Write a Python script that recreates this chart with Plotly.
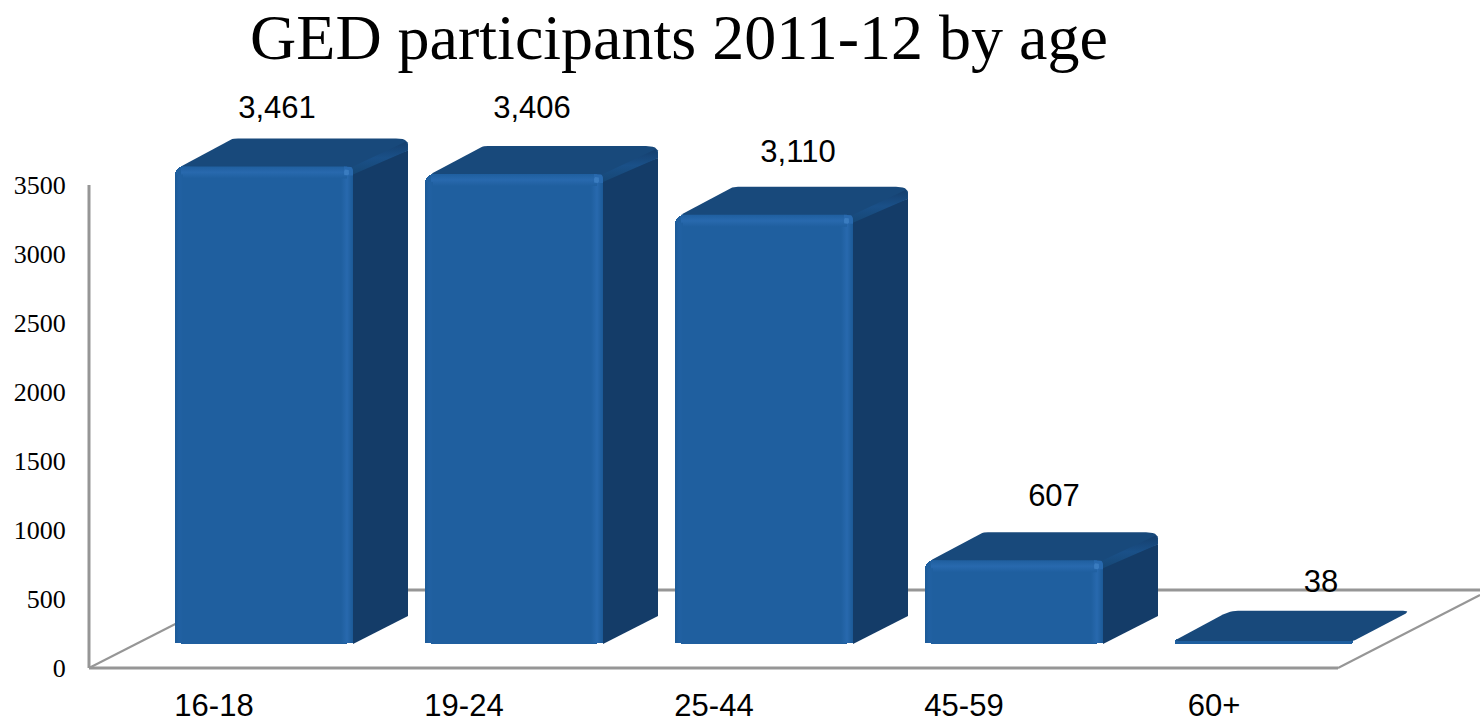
import plotly.graph_objects as go

categories = ["16-18", "19-24", "25-44", "45-59", "60+"]
values = [3461, 3406, 3110, 607, 38]
value_labels = ["3,461", "3,406", "3,110", "607", "38"]
y_ticks = [0, 500, 1000, 1500, 2000, 2500, 3000, 3500]

# style and layout
W, H = 1480, 719
AXIS_L, AXIS_B = 89, 668     # where the drawn axis lines meet
PAD = 5                      # plot area runs a little past them so lines are not clipped
PX_X = 250.0            # pixels per category
PX_Y = 0.138            # pixels per value unit
C0 = 264                # pixel centre of first bar
BASE = 24 / PX_Y        # front of bars sits up from the front floor edge
BAR_W = 178
DX, DY = 55, 28         # depth of bars in pixels
FRONT, TOP, SIDE = "#1f5f9f", "#18497b", "#143c68"
LIGHT = "#2869ae"
GRID = "#969696"
label_dx = [13, 18, 34, 40, 57]    # label offset from bar centre (px)
label_dy = [56, 64, 61, 62, 55]    # label offset above bar front top (px)

x_axis = (AXIS_L - C0) / PX_X
x_min = (AXIS_L - PAD - C0) / PX_X
x_max = (W - C0) / PX_X
y_min = -PAD / PX_Y
y_max = AXIS_B / PX_Y


def ux(i, px=0):
    return i + px / PX_X


def uy(v, px=0):
    return v + px / PX_Y


def rounded(pts, radii, n=6):
    """pts in px offset; returns smoothed outline."""
    out = []
    m = len(pts)
    for k in range(m):
        p0, p1, p2 = pts[k - 1], pts[k], pts[(k + 1) % m]
        r = radii[k]
        if r == 0:
            out.append(p1)
            continue
        def toward(a, b):
            d = ((a[0] - b[0]) ** 2 + (a[1] - b[1]) ** 2) ** 0.5 or 1
            f = min(r / d, 0.5)
            return (b[0] + (a[0] - b[0]) * f, b[1] + (a[1] - b[1]) * f)
        a, b = toward(p0, p1), toward(p2, p1)
        for t in range(n + 1):
            s = t / n
            out.append(((1 - s) ** 2 * a[0] + 2 * s * (1 - s) * p1[0] + s ** 2 * b[0],
                        (1 - s) ** 2 * a[1] + 2 * s * (1 - s) * p1[1] + s ** 2 * b[1]))
    return out


def poly(i, top_val, pts, color=None, grad=None, radii=None):
    pts = rounded(pts, radii or [0] * len(pts))
    xs = [ux(i, p[0]) for p in pts] + [ux(i, pts[0][0])]
    ys = [uy(top_val, p[1]) for p in pts] + [uy(top_val, pts[0][1])]
    kw = dict(fillcolor=color) if color else dict(fillgradient=grad)
    return go.Scatter(x=xs, y=ys, mode="lines", fill="toself", line=dict(width=0),
                      hoverinfo="skip", showlegend=False, **kw)


def hgrad(a, b, c):
    return dict(type="horizontal", colorscale=[[0, a], [0.5, b], [1, c]])


def vgrad(a, b, c):
    return dict(type="vertical", colorscale=[[0, a], [0.5, b], [1, c]])


fig = go.Figure()

fig.add_trace(go.Bar(x=list(range(5)), y=values, base=BASE, width=BAR_W / PX_X,
                     marker=dict(color=FRONT, line=dict(width=0), cornerradius=9),
                     hoverinfo="skip", showlegend=False))

hw = BAR_W / 2
for i, v in enumerate(values):
    t = v + BASE
    hpx = v * PX_Y
    if hpx > 20:
        # side face (offsets: px right, px up from front top)
        fig.add_trace(poly(i, t, [(hw - 1, -2), (hw + DX, DY - 12), (hw + DX, DY - hpx), (hw, -hpx)],
                           color=SIDE))
        # top face
        fig.add_trace(poly(i, t, [(-hw + 6, 0), (-hw + DX + 2, DY), (hw + DX, DY), (hw + DX, DY - 12), (hw, -6)],
                           color=TOP, radii=[2, 6, 12, 0, 0]))
        # bevel along the top face's right edge
        fig.add_trace(poly(i, t, [(hw - 2, -1), (hw + DX - 2, DY - 3), (hw + DX, DY - 12), (hw, -8)],
                           grad=vgrad("#164775", "#1a5088", "#153f6d")))
        # bevel on front face: right strip, top strip, left strip, and rounded right corner
        fig.add_trace(poly(i, t, [(hw - 12, -5), (hw, -5), (hw, -hpx + 1), (hw - 12, -hpx + 1)],
                           grad=hgrad(FRONT, LIGHT, "#1c5a97")))
        fig.add_trace(poly(i, t, [(-hw + 6, 0), (hw - 6, 0), (hw - 6, -12), (-hw + 6, -12)],
                           grad=vgrad(FRONT, LIGHT, FRONT)))
        fig.add_trace(poly(i, t, [(-hw, -8), (-hw + 8, -8), (-hw + 8, -hpx + 1), (-hw, -hpx + 1)],
                           grad=hgrad("#1c5a97", "#2161a3", FRONT)))
        fig.add_trace(poly(i, t, [(hw - 9, 0), (hw, 0), (hw, -9), (hw - 9, -9)], color=LIGHT,
                           radii=[0, 8, 0, 0]))
        fig.add_trace(poly(i, t, [(hw - 9, -3), (hw - 4, -3), (hw - 4, -9), (hw - 9, -9)],
                           color="#3a7cc0", radii=[2, 2, 2, 2]))
    else:
        # a very short bar shows little more than its top face
        fig.add_trace(poly(i, t, [(-hw - 1, -hpx + 3), (-hw + DX, DY), (hw + DX + 3, DY), (hw + 2, -hpx + 3)],
                           color=TOP, radii=[5, 8, 8, 6]))

fig.add_trace(go.Scatter(
    x=[ux(i, label_dx[i]) for i in range(5)],
    y=[uy(values[i] + BASE, label_dy[i]) for i in range(5)],
    text=value_labels, mode="text", textposition="middle center",
    textfont=dict(family="Liberation Sans", size=31, color="#000000"),
    cliponaxis=False, hoverinfo="skip", showlegend=False))

line = dict(color=GRID, width=3)
thin = dict(color=GRID, width=2)
back_y = 78 / PX_Y
fr_x = (1338 - C0) / PX_X
for x0, y0, x1, y1, ln in [
    (x_axis, 0, x_axis, 3500, line),
    (x_axis, 0, fr_x, 0, line),
    (x_axis, 0, x_axis + 153 / PX_X, back_y, thin),
    (x_axis + 153 / PX_X, back_y, x_max, back_y, line),
    (fr_x, 0, x_max, (x_max - fr_x) * PX_X * 0.514 / PX_Y, thin),
]:
    fig.add_shape(type="line", x0=x0, y0=y0, x1=x1, y1=y1, line=ln, layer="below")

fig.update_layout(
    width=W, height=H, autosize=False,
    margin=dict(l=AXIS_L - PAD, r=0, t=0, b=H - AXIS_B - PAD, pad=0, autoexpand=False),
    paper_bgcolor="#ffffff", plot_bgcolor="#ffffff",
    bargap=0, showlegend=False,
    title=dict(text="GED participants 2011-12 by age", x=679 / W, xanchor="center",
               xref="container", y=1 - 37 / H, yanchor="middle", yref="container",
               automargin=False,
               font=dict(family="Liberation Serif", size=64, color="#000000")),
    xaxis=dict(range=[x_min, x_max], tickmode="array", automargin=False,
               tickvals=[i - 50 / PX_X for i in range(5)], ticktext=categories,
               showgrid=False, zeroline=False, showline=False, tickangle=0,
               ticks="outside", ticklen=5, tickcolor="rgba(0,0,0,0)",
               tickfont=dict(family="Liberation Sans", size=31, color="#000000")),
    yaxis=dict(range=[y_min, y_max], tickmode="array", automargin=False,
               tickvals=y_ticks, ticktext=[str(v) for v in y_ticks],
               showgrid=False, zeroline=False, showline=False,
               ticks="outside", ticklen=12, tickcolor="rgba(0,0,0,0)",
               tickfont=dict(family="Liberation Serif", size=26, color="#000000")),
)

fig.write_html("out.html", config={"displayModeBar": False},
               post_script="document.body.style.margin='0';document.documentElement.style.overflow='hidden';document.body.style.overflow='hidden';")
